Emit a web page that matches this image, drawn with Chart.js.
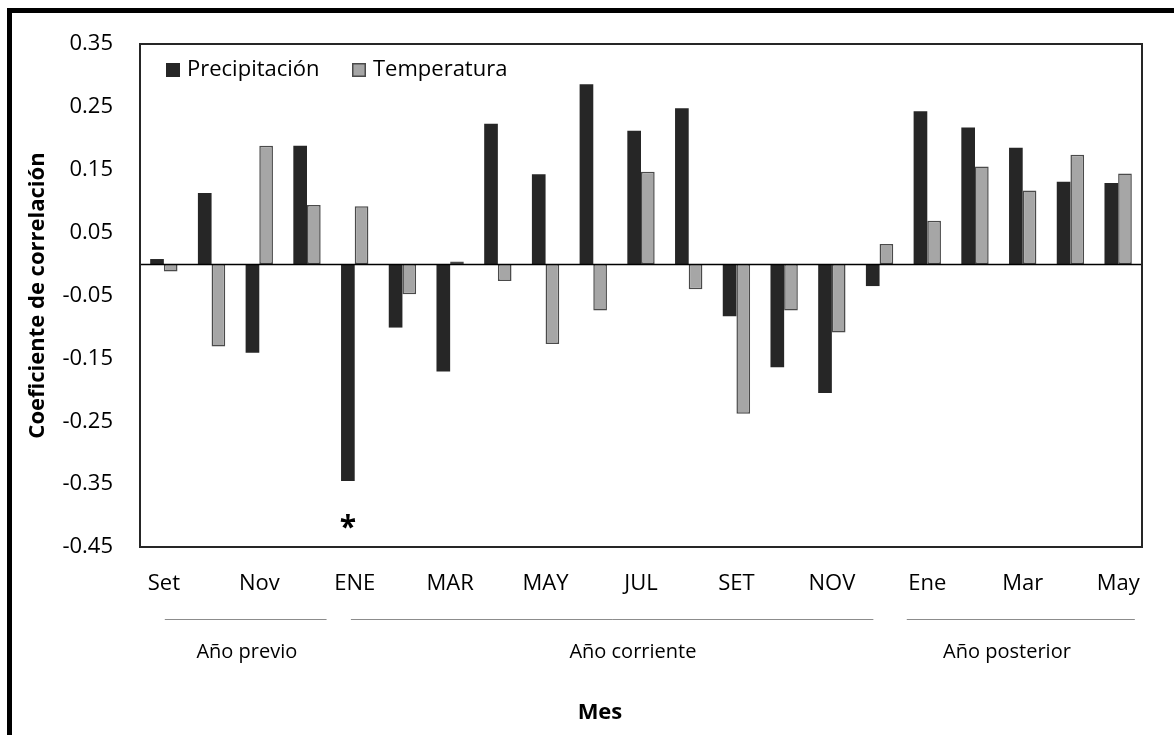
<!DOCTYPE html>
<html lang="es">
<head>
<meta charset="utf-8">
<title>Coeficiente de correlación por mes</title>
<script src="https://cdn.jsdelivr.net/npm/chart.js@4/dist/chart.umd.min.js"></script>
<style>
  html, body { margin: 0; padding: 0; background: #fff; }
  #wrap { width: 1174px; height: 735px; }
</style>
</head>
<body>
<div id="wrap"><canvas id="c" width="1174" height="735"></canvas></div>
<script>
// Months from September of the previous year to May of the following year
const months = ['Set', 'Oct', 'Nov', 'Dic', 'ENE', 'FEB', 'MAR', 'ABR', 'MAY', 'JUN', 'JUL',
                'AGO', 'SET', 'OCT', 'NOV', 'DIC', 'Ene', 'Feb', 'Mar', 'Abr', 'May'];

// Correlation coefficients
const precipitacion = [0.008, 0.113, -0.141, 0.188, -0.345, -0.101, -0.171, 0.223, 0.143, 0.286, 0.212,
                       0.248, -0.083, -0.164, -0.205, -0.035, 0.243, 0.217, 0.185, 0.131, 0.129];
const temperatura   = [-0.012, -0.131, 0.188, 0.094, 0.092, -0.048, 0.004, -0.027, -0.127, -0.074, 0.147,
                       -0.040, -0.238, -0.074, -0.109, 0.032, 0.069, 0.155, 0.117, 0.174, 0.144];

// Significant precipitation months (index into months)
const significativos = [4];

// Y axis ticks
const yTicks = [0.35, 0.25, 0.15, 0.05, -0.05, -0.15, -0.25, -0.35, -0.45];

// Year groups under the month axis
const grupos      = ['Año previo', 'Año corriente', 'Año posterior'];
const grupoInicio = [0, 4, 16];
const grupoFin    = [3, 15, 20];

const FONT = '"Open Sans", "DejaVu Sans", sans-serif';

// Placement of group rules and captions, in category units
const groupLayout = [
  { from: 0.02, to: 3.41, text: 1.74 },
  { from: 3.92, to: 14.87, text: 9.83 },
  { from: 15.57, to: 20.35, text: 17.67 }
];

const decorations = {
  id: 'decorations',
  beforeDraw(chart) {
    const { ctx } = chart;
    ctx.save();
    ctx.fillStyle = '#fff';
    ctx.fillRect(0, 0, chart.width, chart.height);
    // outer frame (top and left edges)
    ctx.fillStyle = '#000';
    ctx.fillRect(7, 8, chart.width - 7, 5);
    ctx.fillRect(7, 8, 5, chart.height - 8);
    ctx.restore();
  },
  afterDatasetsDraw(chart) {
    const { ctx, chartArea: a, scales: { x, y } } = chart;
    ctx.save();
    // zero line
    const y0 = Math.round(y.getPixelForValue(0)) + 0.5;
    ctx.strokeStyle = '#000';
    ctx.lineWidth = 1.5;
    ctx.beginPath();
    ctx.moveTo(a.left, y0);
    ctx.lineTo(a.right, y0);
    ctx.stroke();
    // plot frame
    ctx.strokeStyle = '#262626';
    ctx.lineWidth = 2;
    ctx.strokeRect(a.left, a.top, a.right - a.left, a.bottom - a.top);

    // legend inside the plot
    const legendX = [a.left + 26, a.left + 212];
    chart.data.datasets.forEach((ds, i) => {
      const lx = legendX[i], ly = a.top + 19;
      ctx.fillStyle = ds.backgroundColor;
      ctx.fillRect(lx, ly, 14, 14);
      if (ds.borderWidth) {
        ctx.strokeStyle = ds.borderColor;
        ctx.lineWidth = 1.5;
        ctx.strokeRect(lx + 0.75, ly + 0.75, 12.5, 12.5);
      }
      ctx.fillStyle = '#000';
      ctx.font = '22px ' + FONT;
      ctx.textAlign = 'left';
      ctx.textBaseline = 'middle';
      ctx.fillText(ds.label, lx + 21, ly + 7);
    });

    // significance marks
    const meta = chart.getDatasetMeta(0);
    ctx.font = 'bold 30px ' + FONT;
    ctx.textAlign = 'center';
    ctx.textBaseline = 'alphabetic';
    significativos.forEach(idx => {
      const bar = meta.data[idx];
      const m = ctx.measureText('*');
      const cy = y.getPixelForValue(-0.41);
      const off = (m.actualBoundingBoxAscent - m.actualBoundingBoxDescent) / 2;
      ctx.fillStyle = '#000';
      ctx.fillText('*', bar.x, cy + off);
    });
    ctx.restore();
  },
  afterDraw(chart) {
    const { ctx, scales: { x } } = chart;
    const c0 = x.getPixelForValue(0);
    const cw = x.getPixelForValue(1) - c0;
    ctx.save();
    grupos.forEach((g, i) => {
      const L = groupLayout[i];
      ctx.strokeStyle = '#8c8c8c';
      ctx.lineWidth = 1;
      ctx.beginPath();
      ctx.moveTo(c0 + L.from * cw, 619.5);
      ctx.lineTo(c0 + L.to * cw, 619.5);
      ctx.stroke();
      ctx.fillStyle = '#000';
      ctx.font = '20px ' + FONT;
      ctx.textAlign = 'center';
      ctx.textBaseline = 'middle';
      ctx.fillText(g, c0 + L.text * cw, 652);
    });
    ctx.font = 'bold 22px ' + FONT;
    ctx.fillText('Mes', c0 + 9.14 * cw, 713);
    ctx.restore();
  }
};

new Chart(document.getElementById('c'), {
  type: 'bar',
  data: {
    labels: months,
    datasets: [
      {
        label: 'Precipitación',
        data: precipitacion,
        backgroundColor: '#262626',
        borderColor: '#262626',
        borderWidth: 0
      },
      {
        label: 'Temperatura',
        data: temperatura,
        backgroundColor: '#a6a6a6',
        borderColor: '#4a4a4a',
        borderWidth: 1.5,
        borderSkipped: false
      }
    ]
  },
  options: {
    responsive: false,
    animation: false,
    devicePixelRatio: 1,
    datasets: { bar: { categoryPercentage: 0.573, barPercentage: 1 } },
    layout: { padding: { left: 0, top: 44, right: 32, bottom: 0 } },
    plugins: { legend: { display: false }, tooltip: { enabled: false } },
    scales: {
      x: {
        grid: { display: false, drawTicks: false },
        border: { display: false },
        ticks: {
          autoSkip: false,
          maxRotation: 0,
          padding: 24,
          color: '#000',
          font: { family: FONT, size: 22 },
          callback: (v, i) => (i % 2 === 0 ? months[i] : '')
        },
        afterFit: s => { s.height = 188; }
      },
      y: {
        min: -0.45,
        max: 0.35,
        grid: { display: false, drawTicks: false },
        border: { display: false },
        afterBuildTicks: s => { s.ticks = yTicks.map(v => ({ value: v })); },
        ticks: {
          padding: 27,
          color: '#000',
          font: { family: FONT, size: 22 },
          callback: v => v.toFixed(2)
        },
        title: {
          display: true,
          text: 'Coeficiente de correlación',
          color: '#000',
          font: { family: FONT, size: 22, weight: 'bold' },
          padding: { top: 25, bottom: 0 }
        },
        afterFit: s => { s.width = 140; }
      }
    }
  },
  plugins: [decorations]
});
</script>
</body>
</html>
